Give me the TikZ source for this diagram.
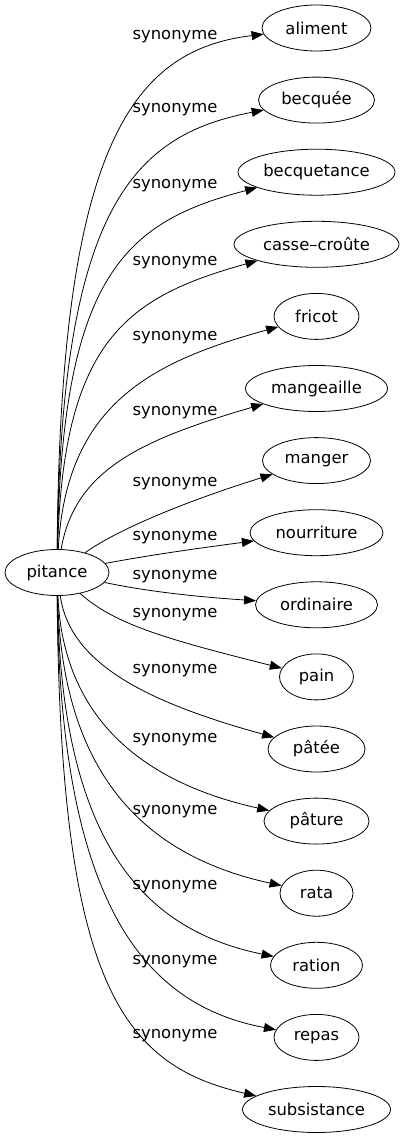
\documentclass[tikz,border=0pt]{standalone}
\usepackage{fontspec}
\setmainfont{DejaVu Sans}
\usetikzlibrary{arrows.meta,shapes.geometric}
\begin{document}
\begin{tikzpicture}[x=1pt,y=-1pt,
	word/.style={draw,ellipse,inner sep=0pt,minimum height=46pt,line width=0.8pt,font=\fontsize{16.4}{19}\selectfont},
	rel/.style={inner sep=0pt,font=\fontsize{16.4}{19}\selectfont},
	syn/.style={-{Triangle[length=12pt,width=9pt]},line width=0.8pt}]

	\useasboundingbox (0,0) rectangle (404,1139);

	\node[word,minimum width=104pt] (pitance) at (57,572.5) {pitance};

	\node[word,minimum width=109pt] (aliment) at (316.5,28) {aliment};
	\node[word,minimum width=116pt] (becquee) at (316.5,100.1) {becquée};
	\node[word,minimum width=157pt] (becquetance) at (316.5,172.2) {becquetance};
	\node[word,minimum width=165pt] (cassecroute) at (316.5,244.3) {casse–croûte};
	\node[word,minimum width=85pt] (fricot) at (316.5,316.4) {fricot};
	\node[word,minimum width=142pt] (mangeaille) at (316.5,388.5) {mangeaille};
	\node[word,minimum width=108pt] (manger) at (316.5,460.6) {manger};
	\node[word,minimum width=133pt] (nourriture) at (316.5,532.7) {nourriture};
	\node[word,minimum width=122pt] (ordinaire) at (316.5,604.8) {ordinaire};
	\node[word,minimum width=74pt] (pain) at (316.5,676.9) {pain};
	\node[word,minimum width=97pt] (patee) at (316.5,749) {pâtée};
	\node[word,minimum width=105pt] (pature) at (316.5,821.1) {pâture};
	\node[word,minimum width=73pt] (rata) at (316.5,893.2) {rata};
	\node[word,minimum width=92pt] (ration) at (316.5,965.3) {ration};
	\node[word,minimum width=85pt] (repas) at (316.5,1037.4) {repas};
	\node[word,minimum width=148pt] (subsistance) at (316.5,1109.5) {subsistance};

	\node[rel] (l-aliment) at (175,37) {synonyme};
	\node[rel] (l-becquee) at (175,110) {synonyme};
	\node[rel] (l-becquetance) at (175,186) {synonyme};
	\node[rel] (l-cassecroute) at (175,263) {synonyme};
	\node[rel] (l-fricot) at (175,338) {synonyme};
	\node[rel] (l-mangeaille) at (175,413) {synonyme};
	\node[rel] (l-manger) at (175,484) {synonyme};
	\node[rel] (l-nourriture) at (175,538) {synonyme};
	\node[rel] (l-ordinaire) at (175,577) {synonyme};
	\node[rel] (l-pain) at (175,615) {synonyme};
	\node[rel] (l-patee) at (175,671) {synonyme};
	\node[rel] (l-pature) at (175,740) {synonyme};
	\node[rel] (l-rata) at (175,812) {synonyme};
	\node[rel] (l-ration) at (175,887) {synonyme};
	\node[rel] (l-repas) at (175,962) {synonyme};
	\node[rel] (l-subsistance) at (175,1036) {synonyme};

	\draw[syn] (pitance) .. controls (60,150) and (130,50) .. (aliment);
	\draw[syn] (pitance) .. controls (61,210) and (132,135) .. (becquee);
	\draw[syn] (pitance) .. controls (62,275) and (125,222) .. (becquetance);
	\draw[syn] (pitance) .. controls (63,340) and (127,297) .. (cassecroute);
	\draw[syn] (pitance) .. controls (66,405) and (150,362) .. (fricot);
	\draw[syn] (pitance) .. controls (75,470) and (140,440) .. (mangeaille);
	\draw[syn] (pitance) .. controls (120,528) and (190,500) .. (manger);
	\draw[syn] (pitance) .. controls (150,555) and (200,548) .. (nourriture);
	\draw[syn] (pitance) .. controls (150,592) and (200,597) .. (ordinaire);
	\draw[syn] (pitance) .. controls (115,625) and (170,640) .. (pain);
	\draw[syn] (pitance) .. controls (70,665) and (150,703) .. (patee);
	\draw[syn] (pitance) .. controls (63,720) and (145,783) .. (pature);
	\draw[syn] (pitance) .. controls (62,780) and (150,857) .. (rata);
	\draw[syn] (pitance) .. controls (61,845) and (145,930) .. (ration);
	\draw[syn] (pitance) .. controls (60,905) and (145,1005) .. (repas);
	\draw[syn] (pitance) .. controls (60,980) and (120,1065) .. (subsistance);
\end{tikzpicture}
\end{document}
